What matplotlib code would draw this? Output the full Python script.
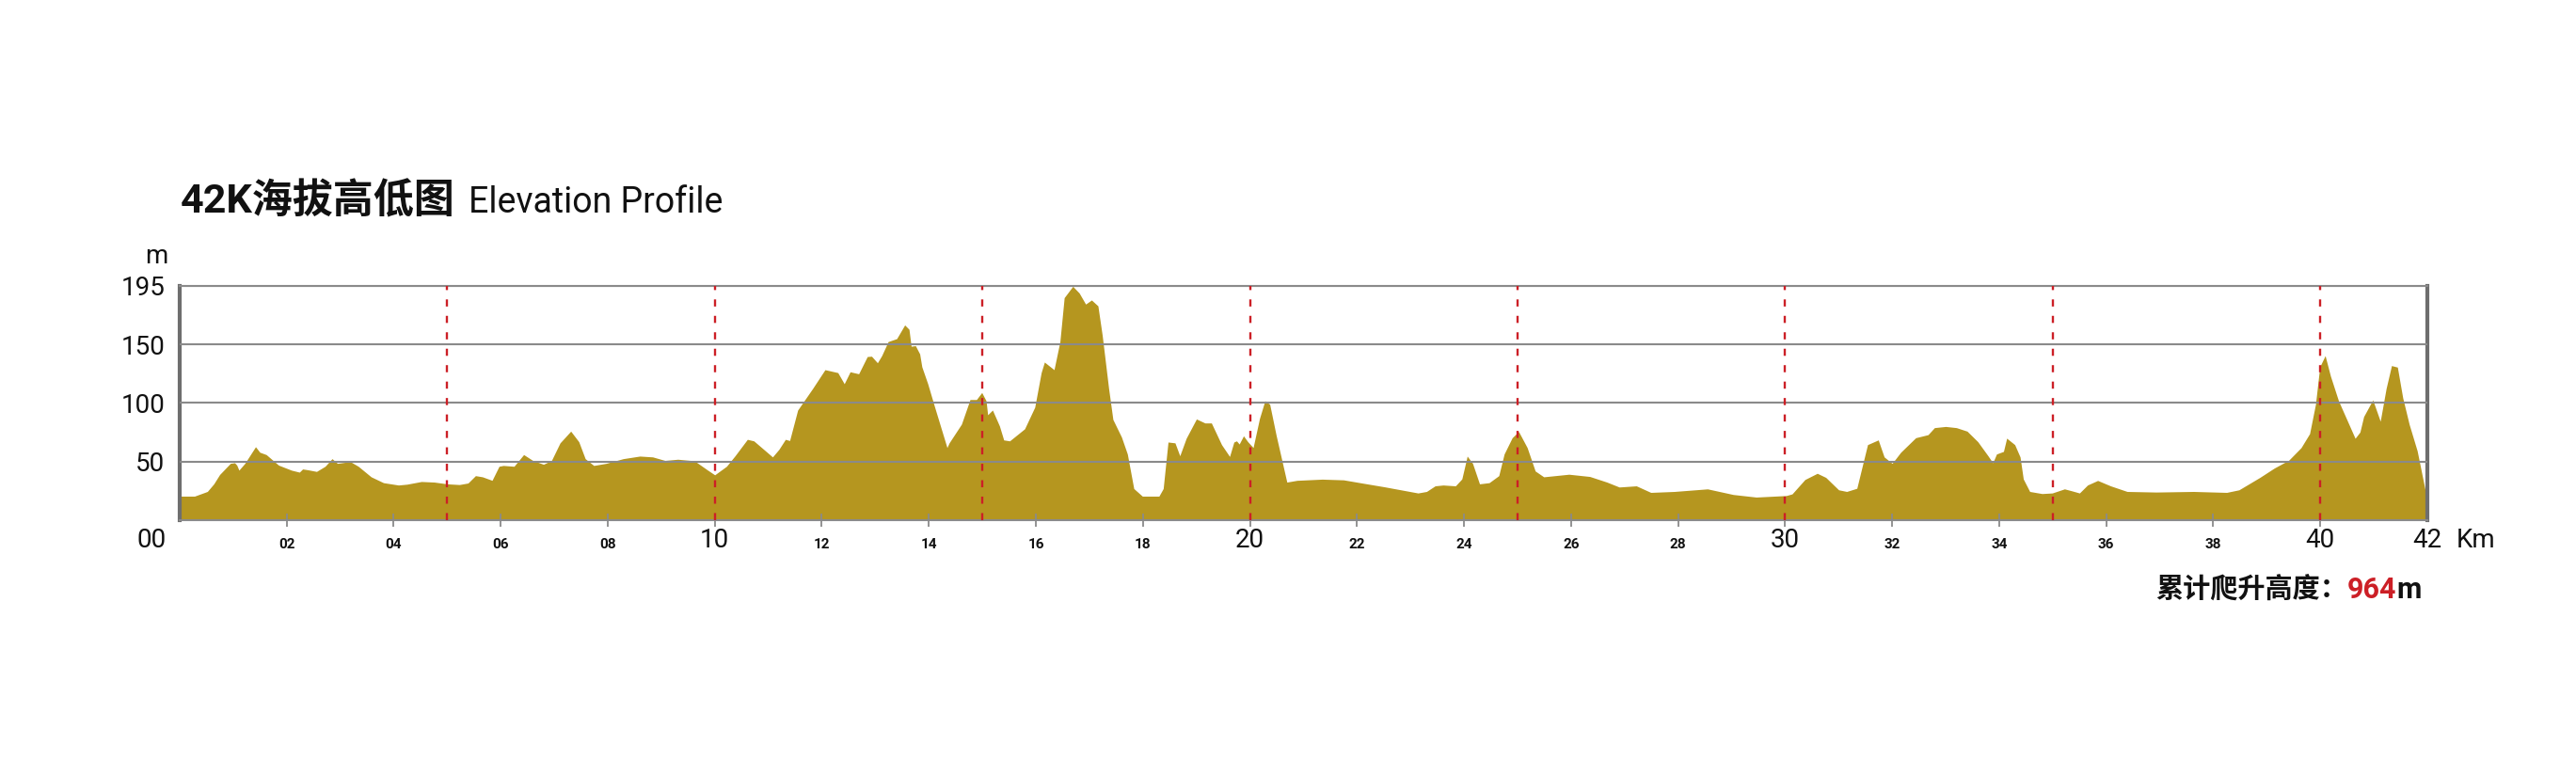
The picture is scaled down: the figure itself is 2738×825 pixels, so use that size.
import matplotlib
matplotlib.use("Agg")
import matplotlib.pyplot as plt

# elevation profile (km, m)
KM = [0.0, 0.28, 0.52, 0.64, 0.75, 0.95, 1.03, 1.07, 1.11, 1.22, 1.42, 1.5, 1.62, 1.85,
      2.09, 2.24, 2.3, 2.4, 2.56, 2.72, 2.85, 2.95, 3.19, 3.34, 3.58, 3.81, 4.09, 4.25,
      4.52, 4.76, 5.0, 5.23, 5.39, 5.53, 5.66, 5.84, 5.97, 6.05, 6.25, 6.43, 6.6, 6.8,
      6.95, 7.11, 7.31, 7.46, 7.58, 7.74, 7.97, 8.29, 8.6, 8.84, 9.07, 9.31, 9.62, 9.86,
      10.0, 10.22, 10.38, 10.61, 10.73, 11.08, 11.2, 11.32, 11.4, 11.55, 11.83, 12.06,
      12.3, 12.42, 12.53, 12.69, 12.85, 12.93, 13.04, 13.12, 13.24, 13.4, 13.55, 13.63,
      13.67, 13.75, 13.83, 13.87, 13.98, 14.1, 14.34, 14.38, 14.61, 14.77, 14.89, 14.99,
      15.07, 15.1, 15.19, 15.32, 15.4, 15.51, 15.79, 15.98, 16.1, 16.16, 16.34, 16.45,
      16.53, 16.69, 16.81, 16.93, 17.04, 17.16, 17.24, 17.36, 17.44, 17.6, 17.71, 17.83,
      17.99, 18.3, 18.38, 18.47, 18.6, 18.69, 18.81, 19.0, 19.16, 19.28, 19.47, 19.62,
      19.7, 19.75, 19.8, 19.88, 19.96, 20.06, 20.18, 20.28, 20.37, 20.49, 20.69, 20.88,
      21.35, 21.75, 22.12, 22.51, 23.14, 23.3, 23.46, 23.61, 23.84, 23.96, 24.06, 24.16,
      24.29, 24.47, 24.65, 24.75, 24.9, 25.02, 25.18, 25.33, 25.49, 25.96, 26.35, 26.67,
      26.9, 27.22, 27.49, 27.93, 28.55, 29.03, 29.46, 30.02, 30.13, 30.37, 30.6, 30.76,
      31.0, 31.15, 31.34, 31.54, 31.74, 31.85, 32.0, 32.16, 32.44, 32.67, 32.79, 33.0,
      33.2, 33.4, 33.6, 33.79, 33.88, 33.95, 34.08, 34.14, 34.29, 34.39, 34.45, 34.57,
      34.8, 34.99, 35.22, 35.36, 35.5, 35.65, 35.84, 36.08, 36.39, 36.93, 37.63, 38.25,
      38.48, 38.87, 39.14, 39.41, 39.64, 39.8, 39.91, 39.99, 40.09, 40.19, 40.34, 40.65,
      40.74, 40.81, 40.98, 41.12, 41.23, 41.33, 41.44, 41.54, 41.66, 41.81, 41.97, 42.0]
ELEV = [20.5, 20.5, 24.5, 31, 39, 48.5, 49, 47, 42.7, 48.5, 62.7, 58, 56, 47,
        42.7, 41, 43.7, 43, 41.6, 46, 52.5, 48.5, 50, 46, 37, 32, 30, 30.7,
        33, 32.5, 31, 30.4, 31.7, 38, 37, 34, 46, 46.7, 46, 56, 51, 47.7,
        51, 66, 76, 67, 52.5, 46.7, 48.5, 52.5, 54.7, 54, 51, 52, 50.7, 43,
        38.7, 46, 55, 69, 67.7, 54, 60.5, 69, 68, 94, 112.5, 128.5,
        126, 116.5, 126.7, 125, 139.7, 140, 134.4, 140.5, 152.5, 155, 166.7, 163,
        148.5, 149, 142, 131, 116.5, 98, 62, 66, 82, 103, 103, 109,
        102, 90, 94, 80.5, 68.5, 67.7, 78, 96.5, 126, 135, 128.5, 152.5,
        190, 199.7, 194, 184.5, 188, 183, 158, 112.5, 86, 71, 56.5, 27,
        20.5, 20.5, 27, 66.7, 66, 55, 70, 86.4, 83, 83, 64.5, 54.4,
        66.7, 67.7, 65, 72, 67, 62, 87, 102, 99, 72.5, 32.5, 34,
        35, 34.4, 31.5, 28.5, 23.2, 24.5, 29.3, 30, 29.3, 35.2, 54.7, 48.5,
        31, 32, 38, 56.5, 70.4, 75.7, 62, 42, 37, 39.2, 37.3, 32.5,
        28.3, 29.3, 23.7, 24.5, 26.7, 21.9, 19.7, 21, 22.4, 34.7, 40, 36.5,
        25.9, 24.5, 27.2, 64.5, 68.5, 54, 48.5, 58, 70.4, 73, 79, 80,
        79, 76, 67, 55, 49, 56.5, 58.7, 70, 64.5, 54, 35.2, 24.5,
        22.7, 23.2, 26.7, 25, 23.2, 30, 33.9, 29.3, 24.5, 24, 24.5, 23.7,
        25.9, 36.5, 44.5, 51.2, 61.9, 73.9, 99, 131, 140.5, 123, 101.9, 69.9,
        75.2, 88.5, 102.7, 84.5, 112.5, 132, 130.7, 104.5, 81.9, 59.2, 23.2, 16.5]

SPLITS = [5, 10, 15, 20, 25, 30, 35, 40]            # red dashed km markers
EVEN_KM = list(range(2, 42, 2))                     # small tick marks
BIG_LABELS = {10: "10", 20: "20", 30: "30", 40: "40", 42: "42"}
SMALL_LABELS = {k: f"{k:02d}" for k in EVEN_KM if k % 10 != 0}
Y_TICKS = [50, 100, 150, 200]
Y_LABELS = ["50", "100", "150", "195"]
TOTAL_CLIMB = "964"

FILL = "#b5961f"
RED = "#cc1f26"
GRID = "#8a8a8a"
LATIN = ["Roboto", "Noto Sans CJK SC", "DejaVu Sans"]
CJK = ["Noto Sans CJK SC", "DejaVu Sans"]

W, H = 2738, 825
fig = plt.figure(figsize=(W / 100, H / 100), dpi=100)
ax = fig.add_axes([190.8 / W, 1 - 553 / H, (2580 - 190.8) / W, (553 - 304) / H])

ax.fill_between(KM, ELEV, 0, color=FILL, lw=0, zorder=1)
for k in SPLITS:
    ax.axvline(k, color=RED, lw=1.7, dashes=(3.2, 4.2), zorder=3)

ax.set_xlim(0, 42)
ax.set_ylim(0, 200)
ax.set_axisbelow(False)
ax.set_yticks(Y_TICKS, Y_LABELS)
ax.yaxis.grid(True, color=GRID, lw=1.5)
ax.tick_params(axis="y", length=0, pad=11, labelsize=20, labelcolor="#111")
for lab in ax.get_yticklabels():
    lab.set_family(LATIN)
ax.set_xticks(EVEN_KM)
ax.tick_params(axis="x", direction="inout", length=10, width=1.3, color=GRID,
               labelbottom=False)

for side in ("top", "bottom"):
    ax.spines[side].set_color(GRID)
    ax.spines[side].set_linewidth(1.5)
for side in ("left", "right"):
    ax.spines[side].set_color("#6e6e6e")
    ax.spines[side].set_linewidth(3)

tr = ax.get_xaxis_transform()
for k, s in BIG_LABELS.items():
    ax.text(k, -0.088, s, transform=tr, ha="center", va="center", fontsize=20,
            family=LATIN, color="#111")
for k, s in SMALL_LABELS.items():
    ax.text(k, -0.104, s, transform=tr, ha="center", va="center", fontsize=11,
            family=LATIN, weight="bold", color="#111")
fig.text(177 / W, 1 - 575 / H, "00", ha="right", va="center", fontsize=20,
         family=LATIN, color="#111")
ax.annotate("Km", xy=(1, -0.088), xycoords="axes fraction", xytext=(31, 0),
            textcoords="offset pixels", ha="left", va="center", fontsize=20,
            family=LATIN, color="#111")
fig.text(166 / W, 1 - 280 / H, "m", ha="center", va="baseline", fontsize=20,
         family=LATIN, color="#111")

# title
fig.text(192 / W, 1 - 226 / H, "42K海拔高低图", ha="left", va="baseline",
         fontsize=31, weight="bold", family=LATIN, color="#111")
fig.text(498 / W, 1 - 226 / H, "Elevation Profile", ha="left", va="baseline",
         fontsize=27, family=LATIN, color="#111")

# total climb note, bottom right
t1 = fig.text(2291 / W, 1 - 627 / H, "累计爬升高度：", ha="left", va="center",
              fontsize=21, weight="bold", family=CJK, color="#111")
t2 = ax.annotate(TOTAL_CLIMB, xy=(1, 0.5), xycoords=t1, ha="left", va="center",
                 fontsize=22, weight="bold", family=LATIN, color=RED,
                 annotation_clip=False)
ax.annotate("m", xy=(1, 0.5), xycoords=t2, ha="left", va="center",
            fontsize=22, weight="bold", family=LATIN, color="#111",
            annotation_clip=False)

fig.savefig("out.png", dpi=100, facecolor="white")
